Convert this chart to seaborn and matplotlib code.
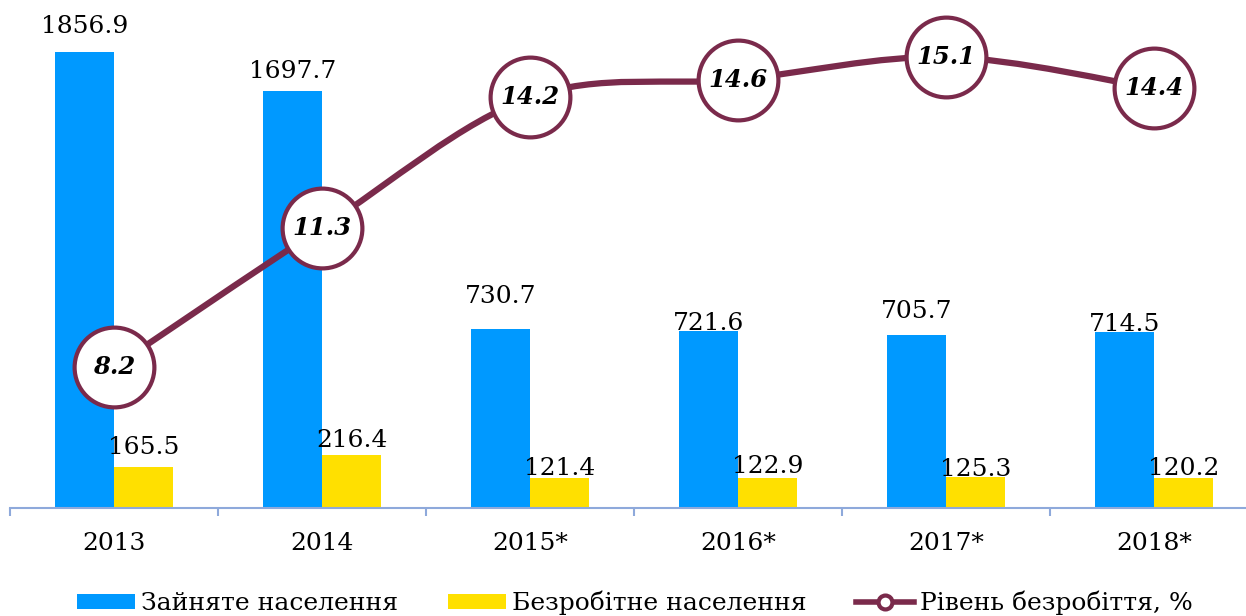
import numpy as np
import pandas as pd
import matplotlib
matplotlib.use("Agg")
import matplotlib.pyplot as plt
from matplotlib.path import Path
from matplotlib.patches import PathPatch, Patch
from matplotlib.lines import Line2D
import seaborn as sns

# ── data ──────────────────────────────────────────
years = ["2013", "2014", "2015*", "2016*", "2017*", "2018*"]
employed = [1856.9, 1697.7, 730.7, 721.6, 705.7, 714.5]
unemployed = [165.5, 216.4, 121.4, 122.9, 125.3, 120.2]
rate = [8.2, 11.3, 14.2, 14.6, 15.1, 14.4]
series_names = ["Зайняте населення", "Безробітне населення", "Рівень безробіття, %"]

# ── style ─────────────────────────────────────────
BLUE = "#0099FF"
YELLOW = "#FFE000"
MAROON = "#7A2A4B"
AXIS = "#8EA9DB"
PX = 72 / 100  # points per pixel at dpi 100

# gap (px) between bar top and the label baseline
pad_emp = [19, 13, 26, 1, 17, 1]
pad_unemp = [13, 8, 3, 5, 1, 3]

plt.rcParams["font.family"] = ["DejaVu Serif"]

df = pd.DataFrame({
    "year": years * 2,
    "value": employed + unemployed,
    "series": [series_names[0]] * 6 + [series_names[1]] * 6,
})

fig = plt.figure(figsize=(12.46, 6.16), dpi=100)
ax = fig.add_axes([10 / 1246, 108 / 616, 1248 / 1246, 508 / 616])

sns.barplot(data=df, x="year", y="value", hue="series", order=years,
            hue_order=series_names[:2], palette=[BLUE, YELLOW],
            width=0.57, gap=0, saturation=1, legend=False, ax=ax)

ax.set_xlim(-0.5, 5.5)
ax.set_ylim(0, 2068)
ax.set_xlabel("")
ax.set_ylabel("")
ax.set_yticks([])
for s in ["left", "right", "top"]:
    ax.spines[s].set_visible(False)
ax.spines["bottom"].set_color(AXIS)
ax.spines["bottom"].set_linewidth(1.5)
ax.set_xticks(np.arange(-0.5, 6.0, 1.0), minor=True)
ax.tick_params(axis="x", which="major", length=0, pad=17, labelsize=18)
ax.tick_params(axis="x", which="minor", length=6, width=1.5, color=AXIS,
               direction="out")
ax.set_facecolor("none")

# bar labels
for cont, vals, pads in zip(ax.containers, [employed, unemployed],
                            [pad_emp, pad_unemp]):
    for bar, v, p in zip(cont, vals, pads):
        ax.annotate(f"{v:.1f}", xy=(bar.get_x() + bar.get_width() / 2, bar.get_height()),
                    xytext=(0, p * PX), textcoords="offset points",
                    ha="center", va="baseline", fontsize=18, color="black")

# ── line on secondary axis ────────────────────────
ax2 = ax.twinx()
ax2.set_ylim(5.06, 16.37)
ax2.set_yticks([])
for s in ax2.spines.values():
    s.set_visible(False)

xs = np.arange(len(rate), dtype=float)
pts = np.column_stack([xs, rate])
verts = [pts[0]]
codes = [Path.MOVETO]
n = len(pts)
for i in range(n - 1):
    p0 = pts[max(i - 1, 0)]
    p1 = pts[i]
    p2 = pts[i + 1]
    p3 = pts[min(i + 2, n - 1)]
    c1 = p1 + (p2 - p0) / 6
    c2 = p2 - (p3 - p1) / 6
    verts += [c1, c2, p2]
    codes += [Path.CURVE4] * 3
ax2.add_patch(PathPatch(Path(verts, codes), fill=False, edgecolor=MAROON,
                        linewidth=4.5, zorder=2, capstyle="round"))

sns.scatterplot(x=xs, y=rate, ax=ax2, s=3300, color="white",
                edgecolor=MAROON, linewidth=3, zorder=3, legend=False)
for x, r in zip(xs, rate):
    ax2.text(x, r, f"{r:.1f}", ha="center", va="center", fontsize=17.5,
             fontweight="bold", fontstyle="italic", zorder=4)

# ── legend ────────────────────────────────────────
handles = [
    Patch(facecolor=BLUE, edgecolor="none"),
    Patch(facecolor=YELLOW, edgecolor="none"),
    Line2D([0], [0], color=MAROON, linewidth=4, marker="o", markersize=10,
           markerfacecolor="white", markeredgecolor=MAROON, markeredgewidth=3),
]
fig.legend(handles, series_names, loc="center", ncol=3,
           bbox_to_anchor=(635 / 1246, 1 - 603 / 616), frameon=False,
           fontsize=18, handlelength=2.3, handleheight=0.6,
           handletextpad=0.25, columnspacing=2.0, borderpad=0)

fig.savefig("out.png", dpi=100)
